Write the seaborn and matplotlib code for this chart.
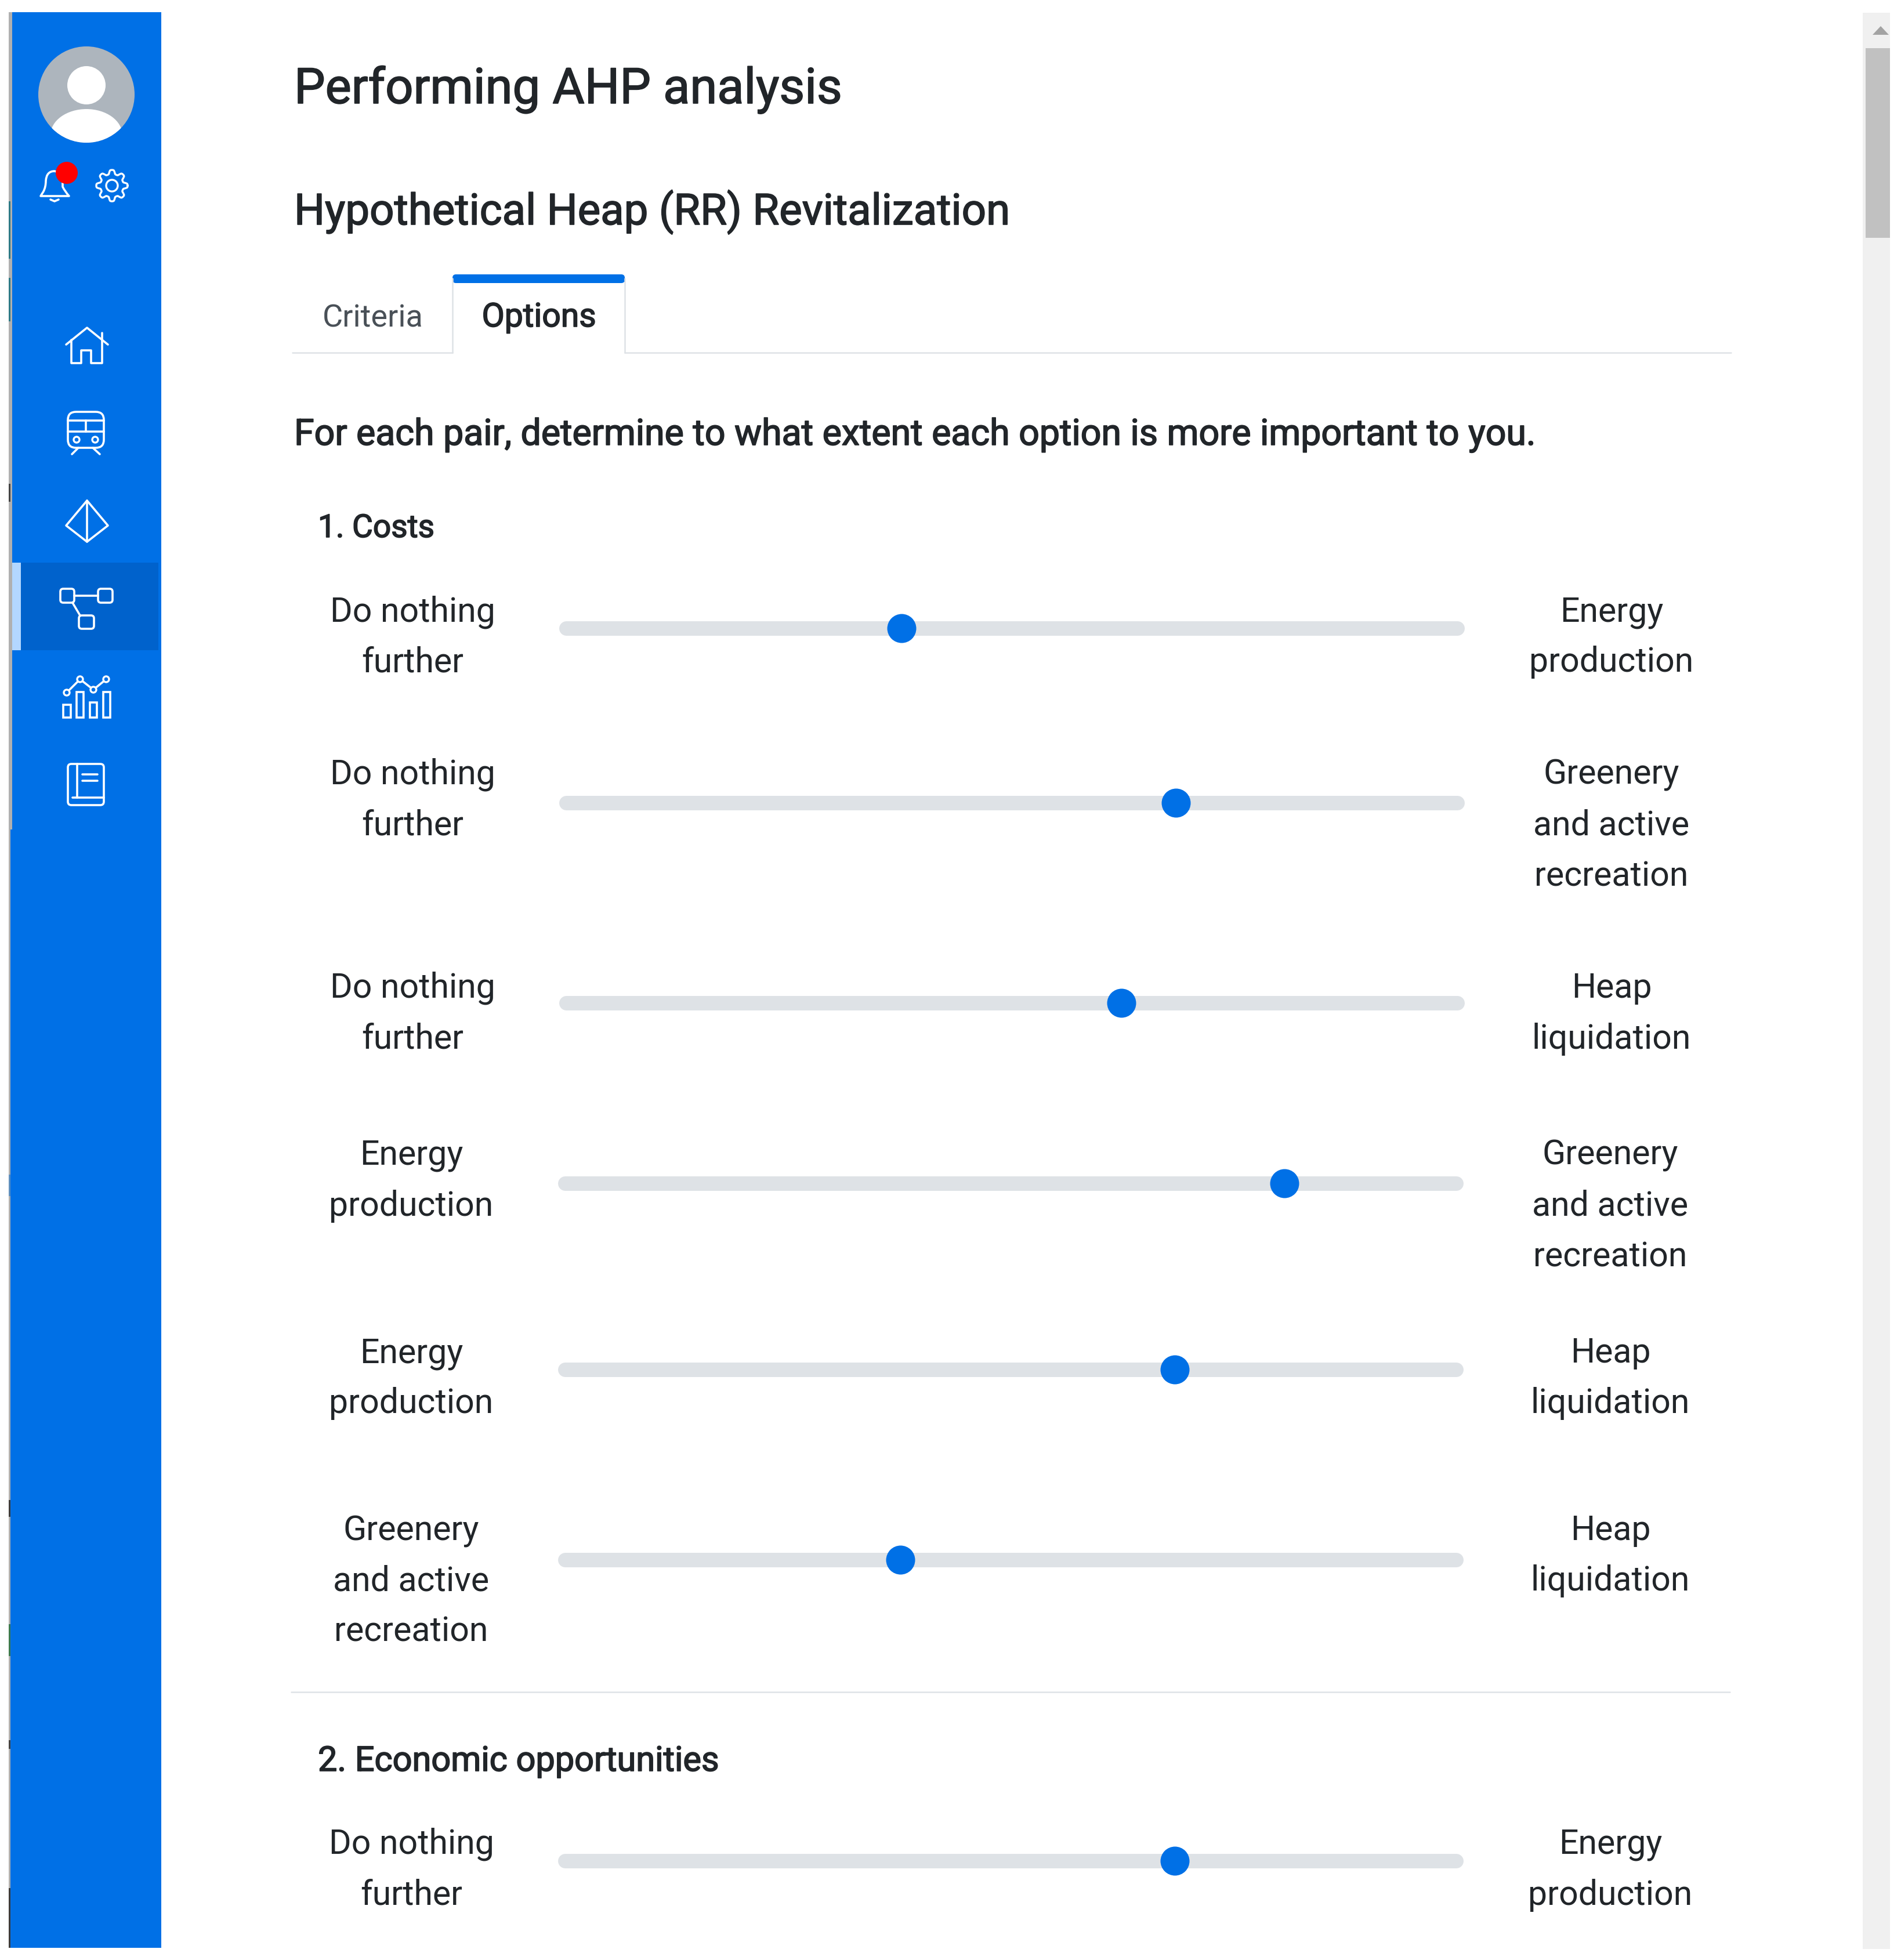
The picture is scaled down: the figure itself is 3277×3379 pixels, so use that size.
#!/usr/bin/env python
"""Mock-up of the AHP pairwise comparison screen, sliders drawn with seaborn."""

import numpy as np
import matplotlib
matplotlib.use("Agg")
import matplotlib.pyplot as plt
import matplotlib.patheffects as pe
from matplotlib.patches import Circle, Ellipse, FancyBboxPatch, Polygon, PathPatch, Rectangle
from matplotlib.path import Path
import seaborn as sns

# chart content
page_title = "Performing AHP analysis"
page_subtitle = "Hypothetical Heap (RR) Revitalization"
tab_labels = ["Criteria", "Options"]
instruction = "For each pair, determine to what extent each option is more important to you."
section_titles = ["1. Costs", "2. Economic opportunities"]

left_options = [
    "Do nothing\nfurther", "Do nothing\nfurther", "Do nothing\nfurther",
    "Energy\nproduction", "Energy\nproduction",
    "Greenery\nand active\nrecreation", "Do nothing\nfurther",
]
right_options = [
    "Energy\nproduction", "Greenery\nand active\nrecreation", "Heap\nliquidation",
    "Greenery\nand active\nrecreation", "Heap\nliquidation", "Heap\nliquidation",
    "Energy\nproduction",
]
# slider position on the 17 point AHP scale, -8 (left option) to +8 (right option)
slider_values = [-2, 3, 2, 5, 3, -2, 3]

# layout, all in pixels of the 3277x3379 canvas
W, H = 3277, 3379
slider_y = [1083, 1384, 1729, 2040, 2361, 2689, 3208]
slider_x0 = [963, 963, 963, 961, 961, 961, 961]
first_baseline = [1071, 1352, 1720, 2008, 2349, 2655, 3196]
TRACK_W = 1561
THUMB_R = 24
LEFT_CX = [711, 711, 711, 709, 709, 709, 709]
RIGHT_CX = [2778, 2778, 2778, 2776, 2776, 2776, 2776]
LINE_STEP = 87.5
BODY_SIZE = 59

BLUE = "#0070e6"
TEXT = "#212529"
RULE = "#dee2e6"
FONT = "Roboto"

sns.set_theme(style="white")
plt.rcParams["font.family"] = [FONT, "DejaVu Sans"]

fig = plt.figure(figsize=(W / 100, H / 100), dpi=100, facecolor="white")
ax = fig.add_axes([0, 0, 1, 1])
ax.set_xlim(0, W)
ax.set_ylim(H, 0)
ax.axis("off")


def px(size):
    """Font size in points for a size in canvas pixels."""
    return size * 0.72


def outline(points, closed=False, lw=2.6):
    xs, ys = zip(*points)
    if closed:
        ax.add_patch(Polygon(points, closed=True, fill=False, ec="white", lw=lw, joinstyle="round"))
    else:
        ax.plot(xs, ys, color="white", lw=lw, solid_capstyle="round", solid_joinstyle="round")


def box(x0, y0, x1, y1, r=5, lw=2.6, fc="none"):
    ax.add_patch(FancyBboxPatch((x0 + r, y0 + r), x1 - x0 - 2 * r, y1 - y0 - 2 * r,
                                boxstyle=f"round,pad={r},rounding_size={r}",
                                fc=fc, ec="white", lw=lw))


def draw_sidebar():
    ax.add_patch(Rectangle((15, 21), 6, 1409, fc="#b0b0b0", lw=0))
    ax.add_patch(Rectangle((15, 1430), 3, 1928, fc="#b0b0b0", lw=0))
    for y0, y1, col in [(347, 446, "#2f7a85"), (479, 554, "#2f7a85"), (834, 865, "#444444"),
                        (2025, 2062, "#5d8fbf"), (2586, 2615, "#3d3d3d"),
                        (2800, 2855, "#3c7a50"), (3000, 3015, "#444444"), (3255, 3358, "#3c3c3c")]:
        ax.add_patch(Rectangle((15, y0), 3, y1 - y0, fc=col, lw=0))
    ax.add_patch(Rectangle((18, 1430), 260, 1928, fc=BLUE, lw=0))
    ax.add_patch(Rectangle((21, 21), 257, 1409, fc=BLUE, lw=0))
    ax.add_patch(Rectangle((21, 970), 15, 151, fc="#b3d7ff", lw=0))
    ax.add_patch(Rectangle((36, 970), 237, 151, fc="#0062cc", lw=0))

    # avatar
    disc = Circle((149, 163), 83, fc="#adb5bd", lw=0)
    ax.add_patch(disc)
    ax.add_patch(Circle((149, 147), 33, fc="white", lw=0))
    body = Ellipse((149, 233), 124, 90, fc="white", lw=0)
    ax.add_patch(body)
    body.set_clip_path(disc)

    # bell
    bell = Path([(70, 338), (119, 338), (112, 330), (108, 322), (108, 312), (108, 298), (94, 295), (94, 295),
                 (80, 295), (79, 312), (79, 312), (79, 322), (75, 330), (70, 338)],
                [Path.MOVETO, Path.LINETO, Path.CURVE3, Path.CURVE3, Path.LINETO, Path.CURVE3, Path.CURVE3,
                 Path.LINETO, Path.CURVE3, Path.CURVE3, Path.LINETO, Path.CURVE3, Path.CURVE3, Path.CLOSEPOLY])
    ax.add_patch(PathPatch(bell, fc="none", ec="white", lw=2.6, joinstyle="round"))
    outline([(87, 344), (94, 347), (101, 344)])
    ax.add_patch(Circle((115, 298), 19, fc="#ff0000", lw=0))

    # gear
    angles = np.linspace(0, 2 * np.pi, 97)
    radii = 23.5 + 3.5 * np.clip(np.cos(8 * angles + np.pi / 8 * 0) * 1.6, -1, 1)
    outline(list(zip(193 + radii * np.cos(angles), 320 + radii * np.sin(angles))), lw=2.4)
    ax.add_patch(Circle((193, 320), 10, fc="none", ec="white", lw=2.4))

    # home
    outline([(114, 594), (150, 565), (186, 594)])
    outline([(123, 586), (123, 626), (140, 626), (140, 604), (157, 604), (157, 626), (176, 626), (176, 574)])

    # train
    box(117, 710, 179, 772, r=14)
    outline([(117, 725), (179, 725)])
    outline([(117, 744), (179, 744)])
    outline([(148, 725), (148, 744)])
    for cx in (132, 164):
        ax.add_patch(Circle((cx, 758), 5, fc="none", ec="white", lw=2.4))
    outline([(135, 772), (124, 783)])
    outline([(160, 772), (172, 783)])

    # diamond
    outline([(150, 863), (186, 906), (150, 934), (114, 906)], closed=True)
    outline([(150, 863), (150, 934)])

    # nodes
    box(104, 1015, 128, 1039)
    box(169, 1015, 194, 1039)
    box(136, 1061, 162, 1084)
    outline([(128, 1027), (169, 1027)])
    outline([(125, 1039), (138, 1061)])

    # bars and line
    for x0, x1, top in [(109, 122, 1215), (132, 144, 1193), (155, 167, 1211), (178, 190, 1193)]:
        ax.add_patch(Rectangle((x0, top), x1 - x0, 1237 - top, fc="none", ec="white", lw=2.6))
    pts = [(115, 1194), (138, 1171), (161, 1189), (183, 1171)]
    outline(pts)
    for p in pts:
        ax.add_patch(Circle(p, 5, fc=BLUE, ec="white", lw=2.4, zorder=3))

    # book
    box(117, 1317, 179, 1388, r=6)
    outline([(133, 1317), (133, 1375)])
    outline([(125, 1375), (179, 1375)])
    outline([(142, 1335), (168, 1335)])
    outline([(142, 1346), (168, 1346)])


def draw_scrollbar():
    ax.add_patch(Rectangle((3211, 22), 47, 3338, fc="#f0f0f0", lw=0))
    ax.add_patch(Rectangle((3216, 83), 42, 327, fc="#c1c1c1", lw=0))
    ax.add_patch(Polygon([(3242, 45), (3228, 60), (3256, 60)], fc="#a3a3a3", lw=0))


def draw_header():
    medium = [pe.withStroke(linewidth=1.2, foreground=TEXT)]
    ax.text(507, 178, page_title, fontsize=px(85), color=TEXT, path_effects=medium)
    ax.text(507, 387, page_subtitle, fontsize=px(74.4), color=TEXT, path_effects=medium)
    ax.text(643, 563, tab_labels[0], fontsize=px(54), color="#495057", ha="center")
    ax.text(929, 563, tab_labels[1], fontsize=px(57), color=TEXT, ha="center", path_effects=medium)
    ax.text(507, 767, instruction, fontsize=px(62.6), color=TEXT, path_effects=medium)
    ax.text(548, 926, section_titles[0], fontsize=px(55), color=TEXT, path_effects=medium)
    ax.text(548, 3053, section_titles[1], fontsize=px(59.4), color=TEXT, path_effects=medium)

    # tab strip and its active tab
    ax.plot([504, 780], [608, 608], color=RULE, lw=1.8)
    ax.plot([1077, 2984], [608, 608], color=RULE, lw=1.8)
    ax.plot([780, 780], [480, 608], color=RULE, lw=1.8)
    ax.plot([1077, 1077], [480, 608], color=RULE, lw=1.8)
    ax.add_patch(FancyBboxPatch((786, 479), 285, 3, boxstyle="round,pad=6,rounding_size=6",
                                fc=BLUE, lw=0))
    ax.add_patch(Rectangle((780, 480), 297, 6, fc=BLUE, lw=0))
    ax.plot([502, 2982], [2917, 2917], color=RULE, lw=1.8)


def draw_slider(i):
    # axes spans the travel of the thumb centre, so the value scale is -8..8
    left = slider_x0[i] + THUMB_R
    width = TRACK_W - 2 * THUMB_R
    height = 60
    bottom = H - slider_y[i] - height / 2
    sax = fig.add_axes([left / W, bottom / H, width / W, height / H])
    sax.set_xlim(-8, 8)
    sax.set_ylim(-1, 1)
    sax.axis("off")
    cap = (THUMB_R - 12.5) / width * 16
    sns.lineplot(x=[-8 - cap, 8 + cap], y=[0, 0], ax=sax, color=RULE, linewidth=18,
                 solid_capstyle="round", clip_on=False, legend=False, errorbar=None)
    sns.scatterplot(x=[slider_values[i]], y=[0], ax=sax, color=BLUE, s=(25 * 2 * 0.72) ** 2,
                    linewidth=0, clip_on=False, legend=False, zorder=5)
    sax.set_xlabel("")
    sax.set_ylabel("")


def draw_option_text(i):
    for j, line in enumerate(left_options[i].split("\n")):
        ax.text(LEFT_CX[i], first_baseline[i] + j * LINE_STEP, line, fontsize=px(BODY_SIZE),
                color=TEXT, ha="center")
    for j, line in enumerate(right_options[i].split("\n")):
        ax.text(RIGHT_CX[i], first_baseline[i] + j * LINE_STEP, line, fontsize=px(BODY_SIZE),
                color=TEXT, ha="center")


draw_sidebar()
draw_scrollbar()
draw_header()
for i in range(len(slider_values)):
    draw_slider(i)
    draw_option_text(i)

fig.savefig("out.png", dpi=100)
